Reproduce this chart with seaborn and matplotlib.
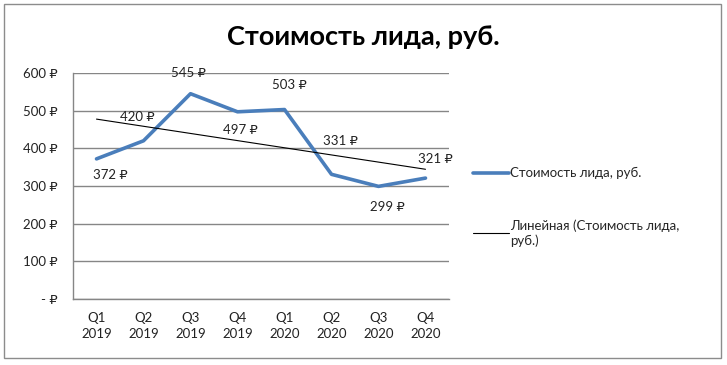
import numpy as np
import pandas as pd
import matplotlib.pyplot as plt
import seaborn as sns
from matplotlib.patches import Rectangle
from matplotlib.ticker import FixedLocator

# ---- Data ----
quarters = ["Q1\n2019", "Q2\n2019", "Q3\n2019", "Q4\n2019",
            "Q1\n2020", "Q2\n2020", "Q3\n2020", "Q4\n2020"]
lead_cost = [372, 420, 545, 497, 503, 331, 299, 321]
series_name = "Стоимость лида, руб."
trend_name = "Линейная (Стоимость лида,\nруб.)"
y_ticks = [0, 100, 200, 300, 400, 500, 600]

# label offsets in pixels (dx, dy) as placed in the source chart
label_offsets = [(14, -16), (-6, 24), (-2, 21), (3, -18),
                 (5, 25), (9, 33), (9, -21), (10, 19)]

data = pd.DataFrame({"pos": np.arange(1, len(quarters) + 1), "cost": lead_cost})

sns.set_style("white")
plt.rcParams["font.family"] = ["Lato", "DejaVu Sans"]

fig = plt.figure(figsize=(7.27, 3.65), dpi=100)
ax = fig.add_axes([73 / 727, 1 - 299 / 365, 376 / 727, 226 / 365])

blue = "#4A7EBB"
sns.lineplot(data=data, x="pos", y="cost", ax=ax, color=blue, linewidth=2.6,
             label=series_name)
sns.regplot(data=data, x="pos", y="cost", ax=ax, scatter=False, ci=None,
            truncate=True, color="black", line_kws={"linewidth": 0.8},
            label=trend_name)

for (x, y), (dx, dy) in zip(zip(data["pos"], data["cost"]), label_offsets):
    ax.annotate(f"{y} ₽", (x, y), xytext=(dx, dy), textcoords="offset pixels",
                ha="center", va="center", fontsize=9.5, color="#222222")

ax.set_xlim(0.5, len(quarters) + 0.5)
ax.set_ylim(0, 600)
ax.set_xticks(data["pos"])
ax.set_xticklabels(quarters, fontsize=9.5, color="#222222", linespacing=1.5)
ax.xaxis.set_minor_locator(FixedLocator(np.arange(0.5, len(quarters) + 1, 1)))
ax.tick_params(axis="x", which="major", length=0, pad=9)
ax.tick_params(axis="x", which="minor", length=5, color="#868686", width=1, direction="out")
ax.set_yticks(y_ticks)
ax.set_yticklabels([f"{v} ₽" if v else "- ₽" for v in y_ticks], fontsize=9.5, color="#222222")
ax.tick_params(axis="y", length=5, color="#868686", width=1, direction="out", pad=6)
ax.set_xlabel("")
ax.set_ylabel("")
ax.grid(axis="y", color="#868686", linewidth=1)
ax.set_axisbelow(True)
for side in ["top", "right"]:
    ax.spines[side].set_visible(False)
for side in ["left", "bottom"]:
    ax.spines[side].set_color("#868686")
    ax.spines[side].set_linewidth(1)

ax.legend(loc="upper left", bbox_to_anchor=(473 / 727, 1 - 167 / 365),
          bbox_transform=fig.transFigure, frameon=False, fontsize=9.5,
          handlelength=2.7, handletextpad=0.1, labelspacing=3.05,
          borderaxespad=0, borderpad=0)

fig.text(0.5, 1 - 37 / 365, series_name, ha="center", va="center",
         fontsize=19.5, fontweight="bold", color="black")

fig.patches.append(Rectangle((4 / 727, 1 - 358 / 365), 717 / 727, 354 / 365,
                             transform=fig.transFigure, fill=False,
                             edgecolor="#8C8C8C", linewidth=1))

fig.savefig("out.png", dpi=100)
